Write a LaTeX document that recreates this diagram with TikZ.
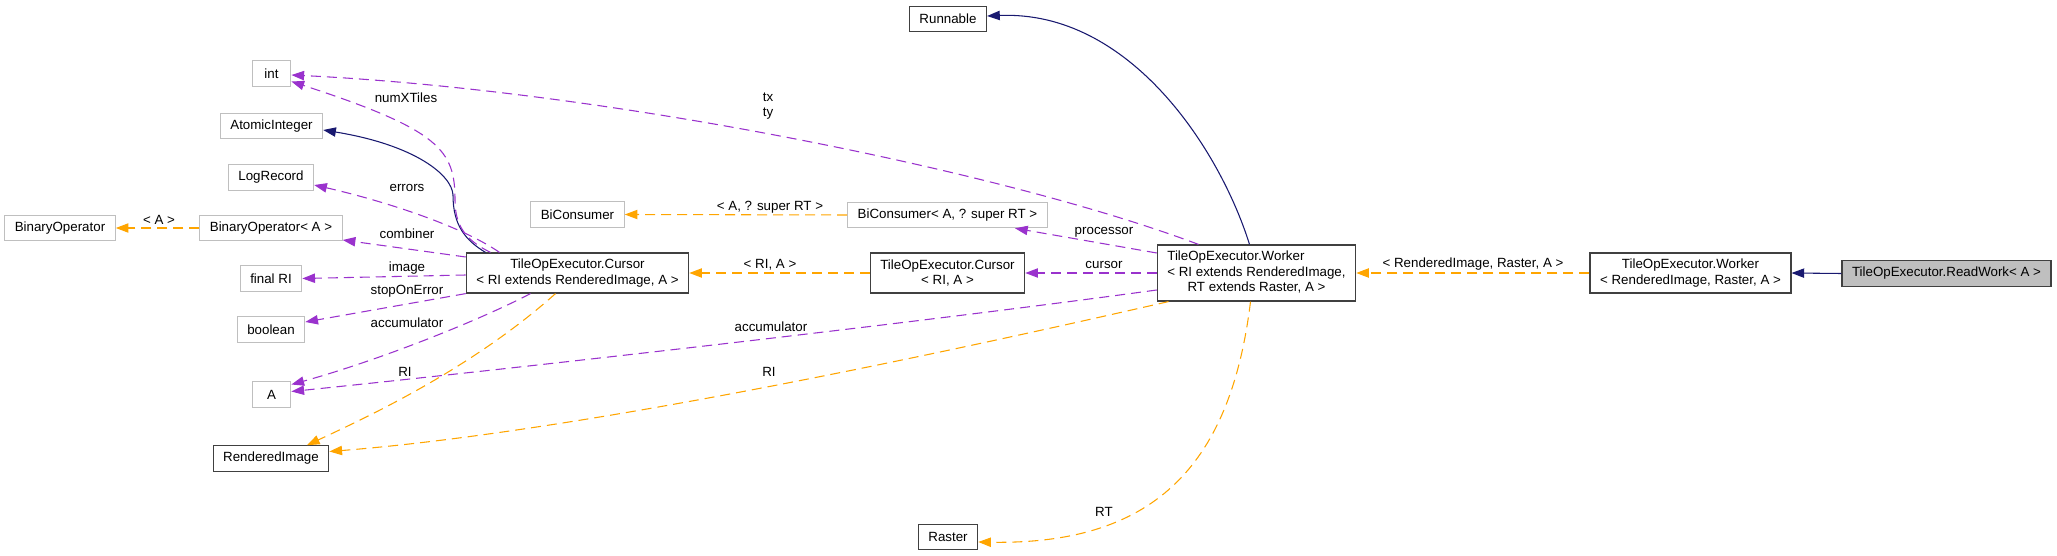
\documentclass[tikz,border=0pt]{standalone}
\usepackage{fontspec}
\setmainfont{Liberation Sans}
\usetikzlibrary{calc, arrows.meta}

\definecolor{usecol}{HTML}{9A32CD}
\definecolor{tmplcol}{HTML}{FFA500}
\definecolor{inhcol}{HTML}{191970}
\definecolor{undoccol}{HTML}{BFBFBF}

\tikzset{
    classbox/.style={draw=black!75, line width=0.9pt, fill=white, minimum width=29pt, minimum height=19pt,
        inner xsep=7.5pt, inner ysep=1pt, font=\fontsize{10}{11.5}\selectfont},
    undoc/.style={classbox, draw=undoccol},
    twoline/.style={classbox, align=center, minimum height=30pt},
    focus/.style={classbox, fill=undoccol},
    lbl/.style={inner sep=0pt, align=center, font=\fontsize{10}{11.5}\selectfont},
    tip/.style={-{Triangle[length=9.5pt, width=7pt]}},
    uses/.style={tip, usecol, line width=0.8pt, dash pattern=on 7.5pt off 4.5pt},
    tmpl/.style={tip, tmplcol, line width=0.8pt, dash pattern=on 7.5pt off 4.5pt},
    inherit/.style={tip, inhcol, line width=0.8pt},
    common settings/.style={x=0.75pt, y=-0.75pt}
}

\begin{document}
\begin{tikzpicture}[common settings]
    \useasboundingbox (0,0) rectangle (2057,556);

    % Left column
    \node[undoc] (int) at (271.5,73.5) {int};
    \node[undoc] (atomic) at (271.5,126) {AtomicInteger};
    \node[undoc] (logrec) at (271,177.5) {LogRecord};
    \node[undoc] (binop) at (60,228) {BinaryOperator};
    \node[undoc] (binopA) at (271,228) {BinaryOperator< A >};
    \node[undoc] (finalri) at (271,278.5) {final RI};
    \node[undoc] (boolean) at (271,329.5) {boolean};
    \node[undoc] (tA) at (271.5,394.5) {A};
    \node[classbox] (rimg) at (271,458.5) {RenderedImage};

    % Middle
    \node[undoc] (bicons) at (577.5,214.5) {BiConsumer};
    \node[twoline] (cursor) at (577.5,273) {TileOpExecutor.Cursor\\< RI extends RenderedImage, A >};
    \node[undoc] (bicons2) at (947.5,215) {BiConsumer< A, ? super RT >};
    \node[twoline] (cursor2) at (947.5,273) {TileOpExecutor.Cursor\\< RI, A >};
    \node[classbox] (runnable) at (948,19) {Runnable};
    \node[classbox] (raster) at (948,537) {Raster};

    % Right
    \node[classbox, minimum height=42pt] (worker) at (1256.5,273) {\begin{tabular}{@{}l@{}}TileOpExecutor.Worker\\< RI extends RenderedImage,\\\multicolumn{1}{@{}c@{}}{RT extends Raster, A >}\end{tabular}};
    \node[twoline] (worker2) at (1690.5,273) {TileOpExecutor.Worker\\< RenderedImage, Raster, A >};
    \node[focus] (readwork) at (1946.5,273.5) {TileOpExecutor.ReadWork< A >};

    % Inheritance
    \draw[inherit] (readwork.west) -- (worker2.east);
    \draw[inherit] ($(worker.north)+(-7,0)$) .. controls (1220,150) and (1130,10) .. ($(runnable.east)+(0,-3)$);
    \draw[inherit] ($(cursor.north)+(-92,0)$) .. controls (465,240) and (453,225) .. (453,195)
        .. controls (452,175) and (415,145) .. ($(atomic.east)+(0,4)$);

    % Template instances
    \draw[tmpl] (worker2.west) -- (worker.east);
    \draw[tmpl] (cursor2.west) -- (cursor.east);
    \draw[tmpl] (bicons2.west) -- (bicons.east);
    \draw[tmpl] (binopA.west) -- (binop.east);
    \draw[tmpl] ($(cursor.south)+(-22,0)$) .. controls (470,370) and (365,418) .. ($(rimg.north)+(36,0)$);
    \draw[tmpl] ($(worker.south)+(-88,0)$) .. controls (1000,340) and (600,430) .. ($(rimg.east)+(0,-7)$);
    \draw[tmpl] ($(worker.south)+(-6,0)$) .. controls (1230,470) and (1150,545) .. ($(raster.east)+(0,5)$);

    % Members
    \draw[uses] ($(worker.north)+(-58,0)$) .. controls (1000,170) and (600,90) .. ($(int.east)+(0,1.5)$);
    \draw[uses] ($(cursor.north)+(-87,0)$) .. controls (465,240) and (455,225) .. (455,200)
        .. controls (455,150) and (440,130) .. ($(int.east)+(0,8)$);
    \draw[uses] ($(cursor.north)+(-78,0)$) .. controls (460,225) and (380,200) .. ($(logrec.east)+(0,7.5)$);
    \draw[uses] ($(cursor.west)+(0,-16)$) -- ($(binopA.east)+(0,12)$);
    \draw[uses] ($(cursor.west)+(0,2)$) -- (finalri.east);
    \draw[uses] (cursor.south west) -- ($(boolean.east)+(0,-7.5)$);
    \draw[uses] ($(cursor.south)+(-47,0)$) .. controls (480,320) and (380,360) .. ($(tA.east)+(0,-10)$);
    \draw[uses] ($(worker.west)+(0,17)$) .. controls (900,325) and (500,370) .. ($(tA.east)+(0,-3)$);
    \draw[uses] ($(worker.west)+(0,-20)$) -- ($(bicons2.south)+(67.5,0)$);
    \draw[uses] (worker.west) -- (cursor2.east);

    % Labels
    \node[lbl] (l-numx) at (406,98) {numXTiles};
    \node[lbl] (l-txty) at (768,106) {tx\\ty};
    \node[lbl] (l-errors) at (407,188) {errors};
    \node[lbl] (l-comb) at (407,234) {combiner};
    \node[lbl] (l-binA) at (159,220) {< A >};
    \node[lbl] (l-image) at (407,268) {image};
    \node[lbl] (l-stop) at (407,291) {stopOnError};
    \node[lbl] (l-acc1) at (407,323) {accumulator};
    \node[lbl] (l-ri1) at (405,372) {RI};
    \node[lbl] (l-bic) at (770,207) {< A, ? super RT >};
    \node[lbl] (l-cur) at (770,265) {< RI, A >};
    \node[lbl] (l-proc) at (1104,232) {processor};
    \node[lbl] (l-cursor) at (1104,265) {cursor};
    \node[lbl] (l-acc2) at (771,327) {accumulator};
    \node[lbl] (l-ri2) at (769,372) {RI};
    \node[lbl] (l-rt) at (1104,512) {RT};
    \node[lbl] (l-work) at (1473,264) {< RenderedImage, Raster, A >};

\end{tikzpicture}
\end{document}
